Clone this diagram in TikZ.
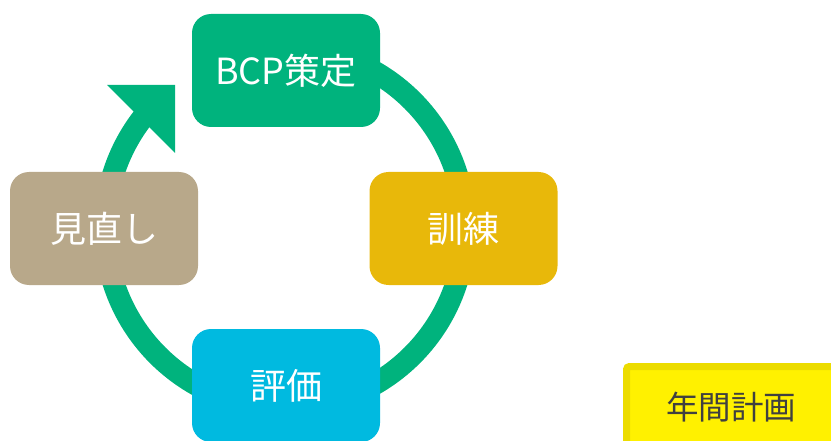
\documentclass[tikz,border=0pt]{standalone}
\usepackage{fontspec}
\setmainfont{Noto Sans CJK JP}
\definecolor{ringgreen}{RGB}{0,179,125}
\definecolor{trgold}{RGB}{232,184,10}
\definecolor{revtan}{RGB}{184,168,138}
\definecolor{evblue}{RGB}{0,186,224}
\definecolor{planyellow}{RGB}{255,241,0}
\definecolor{planborder}{RGB}{236,220,0}
\definecolor{plantext}{RGB}{64,64,64}
\begin{document}
\begin{tikzpicture}[x=1pt,y=1pt,
  box/.style={rounded corners=19pt, minimum width=188pt, minimum height=113pt,
    inner sep=0pt, text=white, font=\fontsize{36}{40}\selectfont},
  ring/.style={line width=22pt, draw=ringgreen}]
\useasboundingbox (0,0) rectangle (831,440);
\coordinate (c) at (285,212);
% ring
\draw[ring] (c) ++(90:180) arc[start angle=90, end angle=-219, radius=180];
% arrowhead
\coordinate (a1) at (107,355);
\coordinate (a2) at (175,355);
\coordinate (a3) at (175,287);
\fill[ringgreen] (a1) -- (a2) -- (a3) -- cycle;
% boxes
\node[box, fill=ringgreen] (bcp) at (286,369.5) {BCP策定};
\node[box, fill=trgold] (train) at (463.5,211.5) {訓練};
\node[box, fill=revtan] (review) at (104,211.5) {見直し};
\node[box, fill=evblue] (eval) at (286,54.5) {評価};
% annual plan
\draw[line width=7pt, draw=planborder, fill=planyellow, rounded corners=3pt]
  (626.5,73.5) rectangle (840,-10);
\node[text=plantext, font=\fontsize{32.5}{36}\selectfont] (plan) at (731,33) {年間計画};
\end{tikzpicture}
\end{document}
